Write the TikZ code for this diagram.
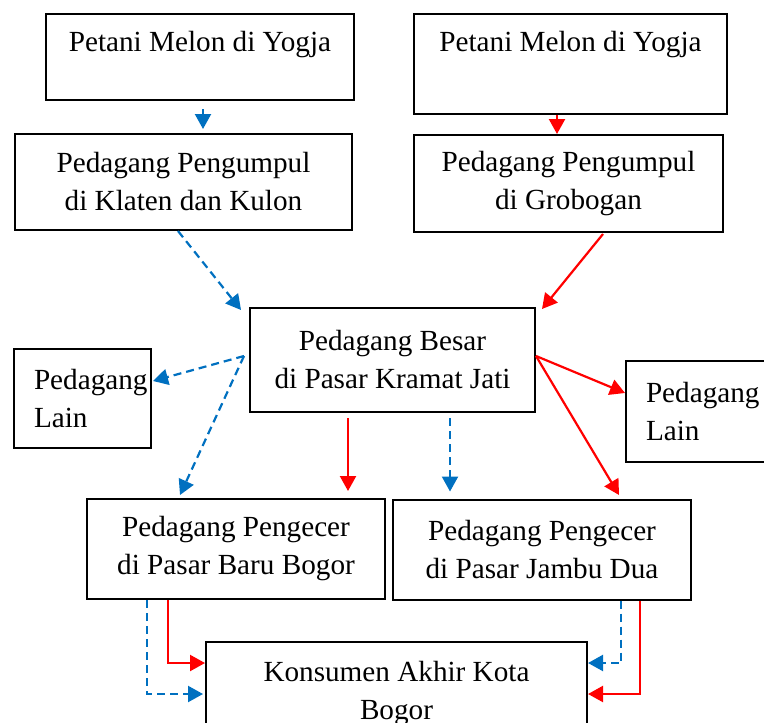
\documentclass[tikz,border=0pt]{standalone}
\usepackage[svgnames, dvipsnames, usenames]{xcolor}
\usepackage{fontspec}
\setmainfont{Liberation Serif}
\usepackage{tikz}
\usetikzlibrary{arrows.meta}
\definecolor{biru}{RGB}{0,112,192}
\definecolor{merah}{RGB}{255,0,0}
\tikzset{
  kotak/.style={draw, line width=1pt, align=center, inner sep=0pt,
    font=\fontsize{14.6}{19}\selectfont},
  lain/.style={kotak, align=left, inner xsep=10pt},
  alurBiru/.style={draw=biru, line width=1.1pt, dash pattern=on 4pt off 2.5pt,
    -{Triangle[length=7.5pt,width=8pt]}},
  alurMerah/.style={draw=merah, line width=1.1pt,
    -{Triangle[length=7.5pt,width=8pt]}}
}
\begin{document}
\begin{tikzpicture}[x=0.5pt, y=-0.5pt]
\useasboundingbox (0,0) rectangle (764,722);
%%%%% Kotak %%%%%
\node[kotak, minimum width=154pt, text height=19pt, text depth=24pt] (petaniA) at (200,57) {Petani Melon di Yogja};
\node[kotak, minimum width=156.5pt, text height=19pt, text depth=31pt] (petaniB) at (570.5,64) {Petani Melon di Yogja};
\node[kotak, minimum width=168.5pt, minimum height=48pt] (pengumpulA) at (183.5,182) {Pedagang Pengumpul\\di Klaten dan Kulon};
\node[kotak, minimum width=154.5pt, minimum height=48.5pt] (pengumpulB) at (568.5,183.5) {Pedagang Pengumpul\\di Grobogan};
\node[kotak, minimum width=142.5pt, minimum height=52pt] (besar) at (392.5,360) {Pedagang Besar\\di Pasar Kramat Jati};
\node[lain, text width=48.5pt, minimum height=49.5pt] (lainA) at (82.5,398.5) {Pedagang\\Lain};
\node[lain, text width=50pt, minimum height=50.5pt] (lainB) at (696,411.5) {Pedagang\\Lain};
\node[kotak, minimum width=149pt, minimum height=50pt] (pengecerA) at (236,549) {Pedagang Pengecer\\di Pasar Baru Bogor};
\node[kotak, minimum width=149pt, minimum height=50pt] (pengecerB) at (542,549.5) {Pedagang Pengecer\\di Pasar Jambu Dua};
\node[kotak, minimum width=190.5pt, minimum height=52pt] (konsumen) at (396.5,694) {Konsumen Akhir Kota\\Bogor};
%%%%% Alur %%%%%
\draw[alurBiru, shorten >=2pt] ([xshift=1.5pt,yshift=-4pt]petaniA.south) -- ([xshift=1.5pt]petaniA.south |- pengumpulA.north);
\draw[alurMerah] ([xshift=-6.75pt]petaniB.south) -- ([xshift=-6.75pt]petaniB.south |- pengumpulB.north);
\draw[alurBiru] ([xshift=-2.75pt]pengumpulA.south) -- ([xshift=-4pt,yshift=-1.5pt]besar.north west);
\draw[alurMerah] ([xshift=17.25pt,yshift=-0.5pt]pengumpulB.south) -- ([xshift=3pt,yshift=-1pt]besar.north east);
% dari pedagang besar
\draw[alurBiru] ([xshift=-2.5pt,yshift=2pt]besar.west) -- ([xshift=0.5pt,yshift=8.75pt]lainA.east);
\draw[alurBiru] ([xshift=-2.5pt,yshift=2pt]besar.west) -- ([xshift=-28pt,yshift=1.5pt]pengecerA.north);
\draw[alurMerah] ([yshift=2pt]besar.east) -- ([yshift=9.25pt]lainB.west);
\draw[alurMerah] ([yshift=2pt]besar.east) -- ([xshift=38.5pt,yshift=1.75pt]pengecerB.north);
\draw[alurMerah] ([xshift=-22.25pt,yshift=-2.5pt]besar.south) -- ([xshift=-22.25pt,yshift=3.5pt]besar.south |- pengecerA.north);
\draw[alurBiru] ([xshift=28.75pt,yshift=-2.5pt]besar.south) -- ([xshift=28.75pt,yshift=3.5pt]besar.south |- pengecerB.north);
% ke konsumen
\draw[alurMerah] ([xshift=-34pt]pengecerA.south) |- ([yshift=15.5pt]konsumen.west);
\draw[alurBiru] ([xshift=-44.5pt]pengecerA.south) |- ([xshift=-1pt]konsumen.west);
\draw[alurBiru] ([xshift=39.5pt]pengecerB.south) |- ([yshift=15.5pt]konsumen.east);
\draw[alurMerah] ([xshift=49pt]pengecerB.south) |- (konsumen.east);
\end{tikzpicture}
\end{document}
